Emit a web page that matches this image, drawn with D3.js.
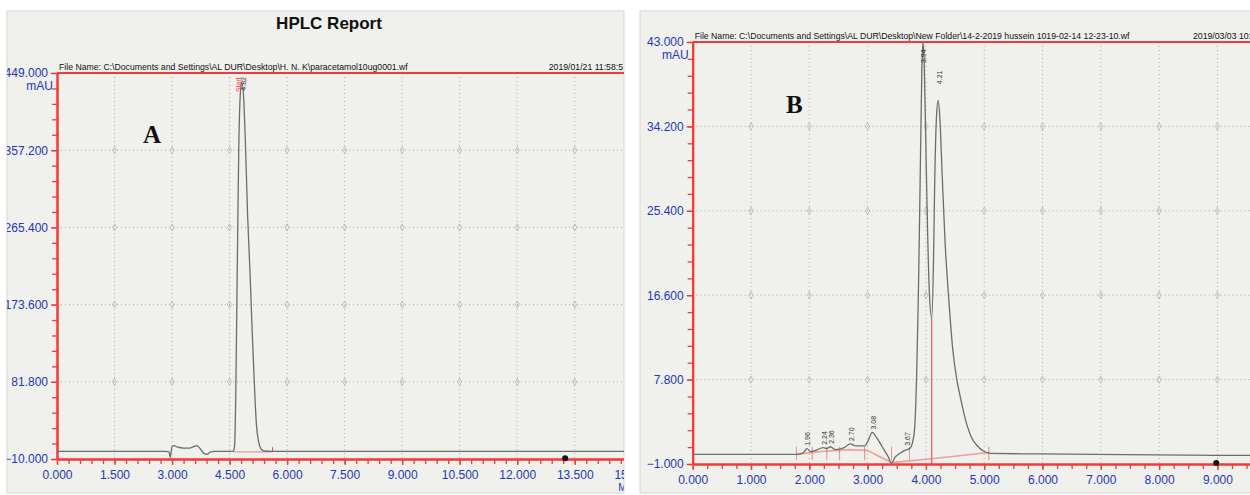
<!DOCTYPE html>
<html>
<head>
<meta charset="utf-8">
<script src="https://cdn.jsdelivr.net/npm/d3@7"></script>
<style>
  body { margin: 0; background: #fff; }
  text { font-family: "Liberation Sans", Arial, sans-serif; }
</style>
</head>
<body>
<script>
// ---- panel A (paracetamol 10ug) ----
var aTickX = [0, 1.5, 3, 4.5, 6, 7.5, 9, 10.5, 12, 13.5, 15];
var aTickY = [-10, 81.8, 173.6, 265.4, 357.2, 449];
var aTime = [0, 2.85, 2.92, 2.95, 3.0, 3.05, 3.15, 3.3, 3.45, 3.58, 3.65, 3.72, 3.85, 3.92, 4.0, 4.1,
  4.6, 4.63, 4.66, 4.7, 4.74, 4.79, 4.82, 4.86, 4.91, 4.97, 5.03, 5.1, 5.16, 5.2, 5.26, 5.32, 5.4, 5.6, 15];
var aSignal = [-1, -1, -1.5, -8, 5, 6, 4, 3, 3, 5, 6, 3, -4, -4.5, -1.5, -1,
  -1, 5, 60, 215, 360, 430, 437, 425, 370, 280, 215, 130, 65, 31, 10, 2, -0.5, -1, -1];
var aPeakTime = [4.82];
var aPeakLabel = ["4.82"];
var aFile = "File Name: C:\\Documents and Settings\\AL DUR\\Desktop\\H. N. K\\paracetamol10ug0001.wf";
var aDate = "2019/01/21 11:58:5";

// ---- panel B ----
var bTickX = [0, 1, 2, 3, 4, 5, 6, 7, 8, 9];
var bTickY = [-1, 7.8, 16.6, 25.4, 34.2, 43];
var bTime = [0, 1.8, 1.9, 1.96, 2.02, 2.1, 2.24, 2.3, 2.36, 2.45, 2.6, 2.7, 2.8, 2.95, 3.0, 3.08, 3.15,
  3.25, 3.35, 3.41, 3.47, 3.55, 3.67, 3.72, 3.78, 3.81, 3.84, 3.87, 3.9, 3.93, 3.95, 3.97, 4.0, 4.03,
  4.06, 4.1, 4.13, 4.15, 4.18, 4.21, 4.24, 4.28, 4.33, 4.39, 4.46, 4.53, 4.59, 4.68, 4.78, 4.88, 5.0,
  5.11, 6.0, 9.0, 9.6];
var bSignal = [0, 0, 0.2, 0.6, 0.3, 0.4, 0.7, 0.6, 0.8, 0.5, 0.7, 1.1, 0.9, 0.9, 1.3, 2.3, 1.8,
  0.8, -0.2, -0.9, -0.3, 0.1, 0.5, 0.6, 1.5, 3, 8, 16.4, 28, 40, 43, 41, 32, 23,
  16.8, 14.2, 20, 28, 35, 36.9, 35, 29, 22, 16.4, 11, 7.8, 6, 3.6, 1.8, 0.9, 0.3,
  0.1, 0.05, -0.1, -0.1];
var bPeakTime = [1.96, 2.24, 2.36, 2.7, 3.08, 3.67, 3.94, 4.21];
var bPeakLabel = ["1.96", "2.24", "2.36", "2.70", "3.08", "3.67", "3.94", "4.21"];
var bBaseTime = [1.78, 2.2, 2.7, 3.0, 3.41, 4.1, 5.08];
var bBaseValue = [0, 0.3, 0.5, 0.4, -0.85, -0.45, 0.2];
var bFile = "File Name: C:\\Documents and Settings\\AL DUR\\Desktop\\New Folder\\14-2-2019 hussein 1019-02-14 12-23-10.wf";
var bDate = "2019/03/03 10:";

var red = "#f23a3a",
  blue = "#2437b4",
  traceColor = "#66706b",
  gridColor = "#9a9a9a";

var svg = d3
  .select("body")
  .append("svg")
  .attr("width", 1250)
  .attr("height", 495);

var defs = svg.append("defs");

// panel A
var panelA = setPanel({
  id: "A",
  box: [7, 11, 617, 482],
  x: d3.scaleLinear().domain([0, 15]).range([57, 57 + 15 * 38.35]),
  y: d3.scaleLinear().domain([-10, 449]).range([459, 73]),
  tickX: aTickX,
  tickY: aTickY,
  minorX: 0.3,
  minorY: (449 - 357.2) / 5,
  file: aFile,
  date: aDate,
});

// panel B
var panelB = setPanel({
  id: "B",
  box: [640, 11, 612, 482],
  x: d3.scaleLinear().domain([0, 10]).range([692.7, 692.7 + 10 * 58.3]),
  y: d3.scaleLinear().domain([-1, 43]).range([464, 42]),
  tickX: bTickX,
  tickY: bTickY,
  minorX: 0.25,
  minorY: (43 - 34.2) / 5,
  file: bFile,
  date: bDate,
});

// title only on A
svg
  .append("text")
  .attr("x", 329)
  .attr("y", 29)
  .attr("text-anchor", "middle")
  .style("font-size", "17px")
  .style("font-weight", "bold")
  .style("fill", "#111")
  .text("HPLC Report");

drawTraceA(panelA);
drawTraceB(panelB);

function setPanel(cfg) {
  var b = cfg.box;
  var x = cfg.x,
    y = cfg.y;

  svg
    .append("rect")
    .attr("x", b[0])
    .attr("y", b[1])
    .attr("width", b[2])
    .attr("height", b[3])
    .style("fill", "#f0f0ed")
    .style("stroke", "#d6d6d3");

  defs
    .append("clipPath")
    .attr("id", "clip" + cfg.id)
    .append("rect")
    .attr("x", b[0])
    .attr("y", b[1])
    .attr("width", b[2])
    .attr("height", b[3]);

  var g = svg.append("g").attr("clip-path", "url(#clip" + cfg.id + ")");

  var x0 = x.range()[0],
    yTop = y.range()[1],
    yBot = y.range()[0],
    xMax = x.domain()[1],
    yMin = y.domain()[0],
    yMax = y.domain()[1];

  // dotted grid
  g.selectAll(".vgrid")
    .data(cfg.tickX.slice(1))
    .enter()
    .append("line")
    .attr("x1", (d) => x(d))
    .attr("x2", (d) => x(d))
    .attr("y1", yTop)
    .attr("y2", yBot)
    .style("stroke", gridColor)
    .style("stroke-width", 0.8)
    .style("stroke-dasharray", "1,3");

  g.selectAll(".hgrid")
    .data(cfg.tickY.slice(1, -1))
    .enter()
    .append("line")
    .attr("x1", x0)
    .attr("x2", b[0] + b[2])
    .attr("y1", (d) => y(d))
    .attr("y2", (d) => y(d))
    .style("stroke", gridColor)
    .style("stroke-width", 0.8)
    .style("stroke-dasharray", "1,3");

  // little diamonds where the grid crosses
  var cross = [];
  cfg.tickX.slice(1).forEach((tx) => {
    cfg.tickY.slice(1, -1).forEach((ty) => cross.push([tx, ty]));
  });
  g.selectAll(".diamond")
    .data(cross)
    .enter()
    .append("path")
    .attr("d", d3.symbol(d3.symbolDiamond, 14))
    .attr("transform", (d) => "translate(" + x(d[0]) + "," + y(d[1]) + ")")
    .style("fill", "none")
    .style("stroke", "#a5a5a5")
    .style("stroke-width", 0.6);

  // minor ticks
  var minorX = d3.axisBottom(x)
    .tickValues(d3.range(0, xMax + 0.001, cfg.minorX))
    .tickSize(5)
    .tickSizeOuter(0)
    .tickFormat("");
  var majorX = d3.axisBottom(x)
    .tickValues(cfg.tickX)
    .tickSize(6)
    .tickSizeOuter(0)
    .tickPadding(5)
    .tickFormat(d3.format(".3f"));
  var minorY = d3.axisLeft(y)
    .tickValues(d3.range(yMin, yMax + 0.001, cfg.minorY))
    .tickSize(5)
    .tickSizeOuter(0)
    .tickFormat("");
  var majorY = d3.axisLeft(y)
    .tickValues(cfg.tickY)
    .tickSize(6)
    .tickSizeOuter(0)
    .tickPadding(3)
    .tickFormat(d3.format(".3f"));

  [minorX, majorX].forEach((ax) => {
    g.append("g")
      .attr("class", "axis")
      .attr("transform", "translate(0," + yBot + ")")
      .call(ax);
  });
  [minorY, majorY].forEach((ax) => {
    g.append("g")
      .attr("class", "axis")
      .attr("transform", "translate(" + x0 + ",0)")
      .call(ax);
  });

  g.selectAll(".axis .domain").style("stroke", red).style("stroke-width", 2);
  g.selectAll(".axis line").style("stroke", red).style("stroke-width", 1.3);
  g.selectAll(".axis text")
    .style("fill", blue)
    .style("font-size", "12px")
    .style("font-family", "'Liberation Sans', Arial, sans-serif");

  // top border line
  g.append("line")
    .attr("x1", x0)
    .attr("x2", b[0] + b[2])
    .attr("y1", yTop)
    .attr("y2", yTop)
    .style("stroke", red)
    .style("stroke-width", 2);

  // unit
  g.append("text")
    .attr("x", x0 - 4)
    .attr("y", yTop + 17)
    .attr("text-anchor", "end")
    .style("fill", blue)
    .style("font-size", "12px")
    .text("mAU");

  // file name + date
  g.append("text")
    .attr("x", x0 + 2)
    .attr("y", yTop - 3)
    .style("font-size", "8.7px")
    .style("fill", "#111")
    .text(cfg.file);
  g.append("text")
    .attr("x", b[0] + b[2] - 1)
    .attr("y", yTop - 3)
    .attr("text-anchor", "end")
    .style("font-size", "8.7px")
    .style("fill", "#111")
    .text(cfg.date);

  return { g: g, x: x, y: y, id: cfg.id };
}

function drawTraceA(p) {
  var line = d3.line()
    .x((d) => p.x(d[0]))
    .y((d) => p.y(d[1]))
    .curve(d3.curveMonotoneX);

  // integration baseline under the peak
  p.g.append("line")
    .attr("x1", p.x(4.63))
    .attr("x2", p.x(5.6))
    .attr("y1", p.y(-1.6))
    .attr("y2", p.y(-1.6))
    .style("stroke", red)
    .style("stroke-width", 1)
    .style("opacity", 0.6);
  p.g.append("line")
    .attr("x1", p.x(5.62))
    .attr("x2", p.x(5.62))
    .attr("y1", p.y(-1.6))
    .attr("y2", p.y(4))
    .style("stroke", red);

  p.g.append("path")
    .datum(aTime.map((t, i) => [t, aSignal[i]]))
    .attr("d", line)
    .style("fill", "none")
    .style("stroke", traceColor)
    .style("stroke-width", 1.3);

  // red start marker + retention label
  p.g.append("text")
    .attr("transform", "translate(" + (p.x(4.82) - 3) + "," + p.y(444) + ") rotate(-90)")
    .attr("text-anchor", "end")
    .attr("dy", "0.35em")
    .style("font-size", "7px")
    .style("fill", red)
    .text("Start");

  p.g.selectAll(".plabel")
    .data(aPeakTime)
    .enter()
    .append("text")
    .attr("transform", (d) => "translate(" + (p.x(d) + 2) + "," + p.y(428) + ") rotate(-90)")
    .attr("dy", "0.35em")
    .style("font-size", "7px")
    .style("fill", "#333")
    .text((d, i) => aPeakLabel[i]);

  // end-of-run dot
  p.g.append("circle")
    .attr("cx", p.x(13.25))
    .attr("cy", p.y(-9))
    .attr("r", 3)
    .style("fill", "#111");

  p.g.append("text")
    .attr("x", p.x(15) - 14)
    .attr("y", 491)
    .style("fill", blue)
    .style("font-size", "10px")
    .text("Min");

  svg.append("text")
    .attr("x", 143)
    .attr("y", 143)
    .style("font-family", "'Liberation Serif', 'Times New Roman', serif")
    .style("font-size", "25px")
    .style("font-weight", "bold")
    .style("fill", "#111")
    .text("A");
}

function drawTraceB(p) {
  var line = d3.line()
    .x((d) => p.x(d[0]))
    .y((d) => p.y(d[1]))
    .curve(d3.curveMonotoneX);

  // integration baselines
  p.g.append("path")
    .datum(bBaseTime.map((t, i) => [t, bBaseValue[i]]))
    .attr("d", d3.line().x((d) => p.x(d[0])).y((d) => p.y(d[1])))
    .style("fill", "none")
    .style("stroke", red)
    .style("stroke-width", 1.6)
    .style("opacity", 0.45);

  // drop line at the valley
  p.g.append("line")
    .attr("x1", p.x(4.1))
    .attr("x2", p.x(4.1))
    .attr("y1", p.y(14.2))
    .attr("y2", p.y(-1))
    .style("stroke", red)
    .style("stroke-width", 1);

  // small red marks at peak boundaries
  [1.78, 2.05, 2.3, 2.52, 2.95, 3.41, 3.72, 5.08].forEach((t) => {
    p.g.append("line")
      .attr("x1", p.x(t))
      .attr("x2", p.x(t))
      .attr("y1", p.y(-0.6))
      .attr("y2", p.y(0.8))
      .style("stroke", red)
      .style("stroke-width", 0.8)
      .style("opacity", 0.7);
  });

  p.g.append("path")
    .datum(bTime.map((t, i) => [t, bSignal[i]]))
    .attr("d", line)
    .style("fill", "none")
    .style("stroke", traceColor)
    .style("stroke-width", 1.3);

  // retention labels
  var peakTop = [0.6, 0.7, 0.8, 1.1, 2.3, 0.6, 43, 36.9];
  p.g.selectAll(".plabel")
    .data(bPeakTime)
    .enter()
    .append("text")
    .attr("transform", (d, i) => {
      var top = i == 6 ? 40.8 : i == 7 ? 38.6 : peakTop[i] + 0.3;
      return "translate(" + (p.x(d) + 1) + "," + p.y(top) + ") rotate(-90)";
    })
    .attr("dy", "0.35em")
    .style("font-size", "7px")
    .style("fill", "#333")
    .text((d, i) => bPeakLabel[i]);

  // end-of-run dot
  p.g.append("circle")
    .attr("cx", p.x(8.98))
    .attr("cy", p.y(-0.9))
    .attr("r", 3)
    .style("fill", "#111");

  svg.append("text")
    .attr("x", 786)
    .attr("y", 113)
    .style("font-family", "'Liberation Serif', 'Times New Roman', serif")
    .style("font-size", "25px")
    .style("font-weight", "bold")
    .style("fill", "#111")
    .text("B");
}
</script>
</body>
</html>
